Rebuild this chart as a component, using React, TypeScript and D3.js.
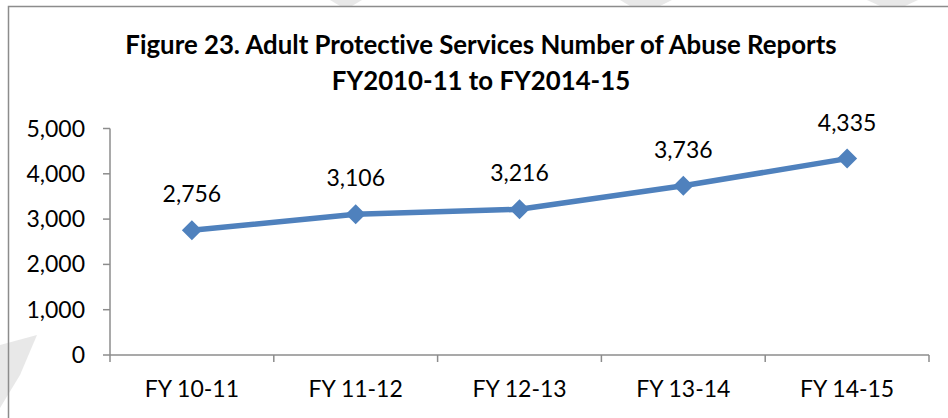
import React from "react";
import * as d3 from "d3";

const categories = ["FY 10-11", "FY 11-12", "FY 12-13", "FY 13-14", "FY 14-15"];
const reports = [2756, 3106, 3216, 3736, 4335];
const yTicks = [0, 1000, 2000, 3000, 4000, 5000];
const titleLines = [
  "Figure 23. Adult Protective Services Number of Abuse Reports",
  "FY2010-11 to FY2014-15",
];

const W = 948;
const H = 418;
const FONT = "Lato, 'Open Sans', sans-serif";
const BLUE = "#4F81BD";
const AXIS = "#8c8c8c";

export default function App() {
  const x = d3.scaleBand<string>().domain(categories).range([110, 929]);
  const y = d3.scaleLinear().domain([0, 5000]).range([355, 128.5]);
  const fmt = d3.format(",");
  const cx = (c: string) => (x(c) as number) + x.bandwidth() / 2;
  const line = d3
    .line<number>()
    .x((_, i) => cx(categories[i]))
    .y((d) => y(d));
  const bounds = [...categories.map((c) => x(c) as number), 929];
  const diamond = d3.symbol(d3.symbolSquare, 200)();

  return (
    <svg
      width={W}
      height={H}
      style={{
        position: "absolute",
        left: 0,
        top: 0,
        display: "block",
        fontVariantLigatures: "none",
        fontFeatureSettings: '"liga" 0, "clig" 0',
      }}
      fontFamily={FONT}
    >
      <rect x={0} y={0} width={W} height={H} fill="#fff" />
      {/* faint watermark bands */}
      <g fill="#d9d9d9" opacity={0.6}>
        <polygon points="330,0 362,0 352,6 340,6" />
        <polygon points="620,0 672,0 660,6 630,6" />
        <polygon points="867,0 918,0 905,6 880,6" />
        <polygon points="0,345 37,335 20,375 0,408" />
      </g>
      {/* chart frame */}
      <path d={`M8.5,${H} V6.5 H${W}`} fill="none" stroke={AXIS} strokeWidth={1.5} />

      {/* title */}
      <text textAnchor="middle" fontWeight="bold" fontSize={25.8} fill="#000">
        <tspan x={481} y={54}>{titleLines[0]}</tspan>
        <tspan x={481} y={90}>{titleLines[1]}</tspan>
      </text>

      {/* y axis */}
      <line x1={110} x2={110} y1={y(5000)} y2={y(0)} stroke={AXIS} strokeWidth={1.5} />
      {yTicks.map((t) => (
        <g key={t}>
          <line x1={103} x2={110} y1={y(t)} y2={y(t)} stroke={AXIS} strokeWidth={1.5} />
          <text x={85} y={y(t)} dy="0.35em" textAnchor="end" fontSize={23} fill="#000">
            {fmt(t)}
          </text>
        </g>
      ))}

      {/* x axis */}
      <line x1={110} x2={929} y1={y(0)} y2={y(0)} stroke={AXIS} strokeWidth={1.5} />
      {bounds.map((b, i) => (
        <line key={i} x1={b} x2={b} y1={y(0)} y2={y(0) + 7} stroke={AXIS} strokeWidth={1.5} />
      ))}
      {categories.map((c) => (
        <text key={c} x={cx(c)} y={397} textAnchor="middle" fontSize={23} fill="#000">
          {c}
        </text>
      ))}

      {/* series */}
      <path d={line(reports) || ""} fill="none" stroke={BLUE} strokeWidth={5.5} strokeLinejoin="round" />
      {reports.map((v, i) => (
        <g key={i}>
          <path
            d={diamond || ""}
            transform={`translate(${cx(categories[i])},${y(v)}) rotate(45)`}
            fill={BLUE}
          />
          <text x={cx(categories[i])} y={y(v) - 28} textAnchor="middle" fontSize={23} fill="#000">
            {fmt(v)}
          </text>
        </g>
      ))}
    </svg>
  );
}
